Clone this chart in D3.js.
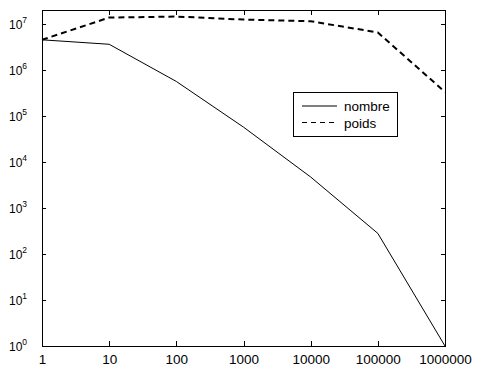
<!DOCTYPE html>
<meta charset="utf-8">
<title>nombre / poids</title>
<style>
    body { margin: 0; background: #fff; }
    text { font-family: "Liberation Sans", Helvetica, Arial, sans-serif; fill: #000; }
    .axis .domain { display: none; }
    .axis line { stroke: #000; shape-rendering: crispEdges; }
    .frame { fill: none; stroke: #000; shape-rendering: crispEdges; }
    .nombre { fill: none; stroke: #000; stroke-width: 1; }
    .poids { fill: none; stroke: #000; stroke-width: 2; stroke-dasharray: 6,4; }
</style>
<body>
<svg width="483" height="373"></svg>
<script src="https://d3js.org/d3.v7.min.js"></script>
<script>
    // x categories (decades) and two series
    var sizes = [1, 10, 100, 1000, 10000, 100000, 1000000];
    var nombre = [4.5e6, 3.6e6, 5.6e5, 5.7e4, 4.7e3, 2.8e2, 1];
    var poids = [4.5e6, 1.37e7, 1.44e7, 1.24e7, 1.14e7, 6.5e6, 3.3e5];
    var xTicks = [1, 10, 100, 1000, 10000, 100000, 1000000];
    var yExponents = [0, 1, 2, 3, 4, 5, 6, 7];

    // note: "top" is reserved on window, so use plotTop etc.
    var plotLeft = 42, plotRight = 445, plotTop = 10, plotBottom = 346;

    var x = d3.scaleLog().domain([1, 1e6]).range([plotLeft, plotRight]);
    var y = d3.scaleLog().domain([1, 2e7]).range([plotBottom, plotTop]);

    var svg = d3.select("svg");

    // bottom axis (ticks pointing inward)
    var gx = svg.append("g")
        .attr("class", "axis")
        .attr("transform", "translate(0," + plotBottom + ")")
        .call(d3.axisBottom(x).tickValues(xTicks).tickSize(-5).tickPadding(8)
            .tickFormat(d3.format("d")));
    gx.selectAll("text").style("font-size", "13.5px");

    // top mirror ticks
    svg.append("g")
        .attr("class", "axis")
        .attr("transform", "translate(0," + plotTop + ")")
        .call(d3.axisTop(x).tickValues(xTicks).tickSize(-5).tickFormat(""));

    // left axis
    var yTickVals = yExponents.map(function(e) { return Math.pow(10, e); });
    svg.append("g")
        .attr("class", "axis")
        .attr("transform", "translate(" + plotLeft + ",0)")
        .call(d3.axisLeft(y).tickValues(yTickVals).tickSize(-4).tickFormat(""));

    // right mirror ticks
    svg.append("g")
        .attr("class", "axis")
        .attr("transform", "translate(" + plotRight + ",0)")
        .call(d3.axisRight(y).tickValues(yTickVals).tickSize(-4).tickFormat(""));

    // y tick labels as 10^n
    var ylab = svg.append("g").selectAll("text")
        .data(yExponents)
        .enter()
        .append("text")
        .attr("x", 9)
        .attr("y", function(d) { return y(Math.pow(10, d)) + 5; })
        .style("font-size", "12px");
    ylab.append("tspan").text("10");
    ylab.append("tspan")
        .attr("dy", -6)
        .style("font-size", "8.5px")
        .text(function(d) { return d; });

    // frame
    svg.append("rect")
        .attr("class", "frame")
        .attr("x", plotLeft + 0.5)
        .attr("y", plotTop + 0.5)
        .attr("width", plotRight - plotLeft)
        .attr("height", plotBottom - plotTop);

    var line = d3.line()
        .x(function(d, i) { return x(sizes[i]); })
        .y(function(d) { return y(d); });

    svg.append("path").attr("class", "nombre").attr("d", line(nombre));
    svg.append("path").attr("class", "poids").attr("d", line(poids));

    // legend
    var legend = svg.append("g");
    legend.append("rect")
        .attr("class", "frame")
        .attr("x", 293.5).attr("y", 92.5)
        .attr("width", 104).attr("height", 44);
    var items = [{name: "nombre", dash: null}, {name: "poids", dash: "5,4"}];
    items.forEach(function(it, i) {
        var ly = 106 + i * 16.5;
        legend.append("line")
            .attr("x1", 302).attr("x2", 337)
            .attr("y1", ly).attr("y2", ly)
            .attr("stroke", "#000")
            .attr("stroke-dasharray", it.dash);
        legend.append("text")
            .attr("x", 344).attr("y", ly + 5)
            .style("font-size", "13.5px")
            .text(it.name);
    });
</script>
</body>
